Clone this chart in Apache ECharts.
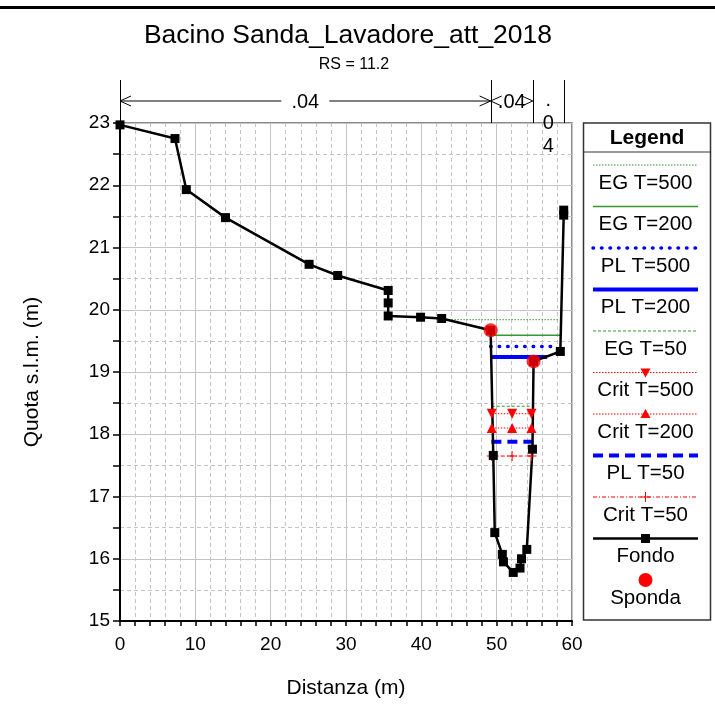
<!DOCTYPE html>
<html>
<head>
<meta charset="utf-8">
<title>Bacino Sanda_Lavadore_att_2018</title>
<script src="https://cdn.jsdelivr.net/npm/echarts@6/dist/echarts.min.js"></script>
<style>
    html, body { margin: 0; padding: 0; background: #fff; }
    #main { width: 715px; height: 708px; }
</style>
</head>
<body>
<div id="main"></div>
<script>
/**
 * sezione trasversale RS = 11.2 - echart
 * quote in m s.l.m., distanze in m
 */

// fondo alveo
var fondoX = [0, 7.3, 8.8, 14.0, 25.1, 28.9, 35.6, 35.6, 35.6, 39.9, 42.7, 49.2, 49.55, 49.75, 50.75, 50.9, 52.2, 53.1, 53.3, 54.0, 54.75, 54.9, 58.45, 58.9, 58.9];
var fondoY = [22.97, 22.75, 21.93, 21.48, 20.73, 20.55, 20.31, 20.11, 19.90, 19.88, 19.86, 19.67, 17.66, 16.42, 16.07, 15.95, 15.78, 15.85, 16.0, 16.15, 17.76, 19.17, 19.33, 21.52, 21.6];

// sponde (bank stations)
var spondaX = [49.2, 54.9];
var spondaY = [19.67, 19.17];

// livelli idrici: estremi in x e quota
var egT500X = [43.2, 58.2];   var egT500Y = 19.84;
var egT200X = [49.2, 58.45];  var egT200Y = 19.59;
var plT500X = [49.2, 58.1];   var plT500Y = 19.41;
var plT200X = [49.2, 56.7];   var plT200Y = 19.24;
var egT50X  = [49.35, 54.55]; var egT50Y  = 18.45;
var plT50X  = [49.3, 55.0];   var plT50Y  = 17.88;

// altezze critiche (marker agli estremi e in mezzo)
var critX = [49.35, 52.05, 54.62];
var critT500Y = 18.33;
var critT200Y = 18.10;
var critT50Y  = 17.65;

// scabrezza di Manning
var nBreaks = [0, 49.2, 54.8, 58.9];
var nLabels = ['.04', '.04', '.04'];

var xTicks = [0, 10, 20, 30, 40, 50, 60];
var yTicks = [15, 16, 17, 18, 19, 20, 21, 22, 23];

var FONT = '"Liberation Sans", Arial, sans-serif';
var GREEN = '#339933', BLUE = '#0000ff', RED = '#ff0000';
var PLUS = 'path://M4.5,0 L5.5,0 L5.5,4.5 L10,4.5 L10,5.5 L5.5,5.5 L5.5,10 L4.5,10 L4.5,5.5 L0,5.5 L0,4.5 L4.5,4.5 Z';

function pairs(xs, ys) {
    var out = [];
    for (var i = 0; i < xs.length; i++) {
        out.push([xs[i], Array.isArray(ys) ? ys[i] : ys]);
    }
    return out;
}

// stile per legenda e serie
var styles = [
    {name: 'EG T=500',  color: GREEN, width: 1,   dash: [1.5, 1.5]},
    {name: 'EG T=200',  color: GREEN, width: 1.5, dash: null},
    {name: 'PL T=500',  color: BLUE,  width: 3.5, dash: [0.5, 8], cap: 'round'},
    {name: 'PL T=200',  color: BLUE,  width: 4,   dash: null},
    {name: 'EG T=50',   color: GREEN, width: 1,   dash: [3, 2]},
    {name: 'Crit T=500', color: RED,  width: 1,   dash: [1.5, 1.5], marker: 'down'},
    {name: 'Crit T=200', color: RED,  width: 1,   dash: [1.5, 1.5], marker: 'up'},
    {name: 'PL T=50',   color: BLUE,  width: 4,   dash: [10, 6]},
    {name: 'Crit T=50', color: RED,   width: 1,   dash: [4, 2, 1, 2], marker: 'plus'},
    {name: 'Fondo',     color: '#000', width: 2.5, dash: null, marker: 'square'},
    {name: 'Sponda',    color: RED,   width: 0,   dash: null, marker: 'dot'}
];

function levelSeries(st, data) {
    var s = {
        name: st.name,
        type: 'line',
        data: data,
        showSymbol: false,
        symbol: 'none',
        silent: true,
        lineStyle: {color: st.color, width: st.width, type: st.dash || 'solid', cap: st.cap || 'butt'},
        itemStyle: {color: st.color}
    };
    if (st.marker === 'down' || st.marker === 'up' || st.marker === 'plus') {
        s.showSymbol = true;
        s.symbol = st.marker === 'plus' ? PLUS : 'triangle';
        s.symbolSize = 10;
        s.symbolRotate = st.marker === 'down' ? 180 : 0;
    }
    return s;
}

var series = [
    levelSeries(styles[0], pairs(egT500X, egT500Y)),
    levelSeries(styles[1], pairs(egT200X, egT200Y)),
    levelSeries(styles[2], pairs(plT500X, plT500Y)),
    levelSeries(styles[3], pairs(plT200X, plT200Y)),
    levelSeries(styles[4], pairs(egT50X, egT50Y)),
    levelSeries(styles[5], pairs(critX, critT500Y)),
    levelSeries(styles[6], pairs(critX, critT200Y)),
    levelSeries(styles[7], pairs(plT50X, plT50Y)),
    levelSeries(styles[8], pairs(critX, critT50Y)),
    {
        name: 'Fondo',
        type: 'line',
        z: 3,
        data: pairs(fondoX, fondoY),
        symbol: 'rect',
        symbolSize: 9,
        lineStyle: {color: '#000', width: 2.5},
        itemStyle: {color: '#000'}
    },
    {
        name: 'Sponda',
        type: 'scatter',
        z: 4,
        data: pairs(spondaX, spondaY),
        symbol: 'circle',
        symbolSize: 14,
        itemStyle: {color: RED}
    }
];

var axisCommon = {
    type: 'value',
    axisLine: {lineStyle: {color: '#000', width: 2}},
    axisTick: {show: true, lineStyle: {color: '#000', width: 1.5}},
    minorTick: {show: true, lineStyle: {color: '#000', width: 1.5}},
    splitLine: {show: true, lineStyle: {color: '#c4c4c4', width: 1}},
    minorSplitLine: {show: true, lineStyle: {color: '#c4c4c4', width: 1, type: [4, 3]}},
    axisLabel: {color: '#000', fontSize: 19, fontFamily: FONT},
    nameLocation: 'middle',
    nameTextStyle: {color: '#000', fontSize: 21, fontFamily: FONT}
};

var chart = echarts.init(document.getElementById('main'));

var option = {
    animation: false,
    backgroundColor: '#fff',
    textStyle: {fontFamily: FONT},
    title: [{
        text: 'Bacino Sanda_Lavadore_att_2018',
        left: 343, top: 17, textAlign: 'center',
        textStyle: {fontSize: 26.5, fontWeight: 'normal', color: '#000', fontFamily: FONT}
    }, {
        text: 'RS = 11.2',
        left: 349, top: 52, textAlign: 'center',
        textStyle: {fontSize: 16, fontWeight: 'normal', color: '#000', fontFamily: FONT}
    }],
    grid: {
        left: 120, right: 143, top: 123, bottom: 87,
        show: true, borderColor: '#666', borderWidth: 1.5
    },
    xAxis: echarts.util.merge({
        min: xTicks[0], max: xTicks[xTicks.length - 1], interval: 10,
        axisTick: {length: 5},
        minorTick: {splitNumber: 5, length: 5},
        axisLabel: {margin: 14},
        name: 'Distanza (m)', nameGap: 57
    }, axisCommon),
    yAxis: echarts.util.merge({
        min: yTicks[0], max: yTicks[yTicks.length - 1], interval: 1,
        axisTick: {length: 7},
        minorTick: {splitNumber: 2, length: 7},
        axisLabel: {margin: 10},
        name: 'Quota s.l.m. (m)', nameGap: 77
    }, axisCommon),
    series: series
};

chart.setOption(option);

/* annotazioni e legenda disegnate a mano */
function buildGraphic() {
    var g = [];
    var topY = 80, botY = 123, arrY = 101;

    // linea spessa in testa
    g.push({type: 'rect', shape: {x: 0, y: 6, width: 715, height: 3}, style: {fill: '#000'}});

    function px(x) { return chart.convertToPixel({xAxisIndex: 0}, x); }
    function head(x, dir) {
        return {type: 'polyline', shape: {points: [[x + dir * 11, arrY - 5], [x, arrY], [x + dir * 11, arrY + 5]]},
            style: {stroke: '#000', lineWidth: 1, fill: null}};
    }

    for (var i = 0; i < nBreaks.length; i++) {
        var bx = Math.round(px(nBreaks[i])) + 0.5;
        g.push({type: 'line', shape: {x1: bx, y1: topY, x2: bx, y2: botY}, style: {stroke: '#000', lineWidth: 1}});
    }
    for (var j = 0; j < nLabels.length; j++) {
        var x0 = px(nBreaks[j]), x1 = px(nBreaks[j + 1]);
        var w = x1 - x0, mid = (x0 + x1) / 2;
        if (w > 60) {
            g.push({type: 'line', shape: {x1: x0, y1: arrY, x2: mid - 24, y2: arrY}, style: {stroke: '#000', lineWidth: 1}});
            g.push({type: 'line', shape: {x1: mid + 24, y1: arrY, x2: x1, y2: arrY}, style: {stroke: '#000', lineWidth: 1}});
            g.push(head(x0, 1), head(x1, -1));
            g.push({type: 'text', x: mid, y: arrY + 1, style: {text: nLabels[j], fontSize: 20, fontFamily: FONT,
                fill: '#000', align: 'center', verticalAlign: 'middle'}});
        } else if (w > 35) {
            g.push(head(x0, 1), head(x1, -1));
            g.push({type: 'text', x: mid, y: arrY + 1, style: {text: nLabels[j], fontSize: 20, fontFamily: FONT,
                fill: '#000', align: 'center', verticalAlign: 'middle'}});
        } else {
            g.push({type: 'text', x: mid, y: 89, style: {text: nLabels[j].split('').join('\n'), fontSize: 20,
                lineHeight: 23, fontFamily: FONT, fill: '#000', align: 'center', verticalAlign: 'top'}});
        }
    }

    // legenda
    var lx = 583.5, ly = 123, lw = 127, lh = 497;
    g.push({type: 'rect', shape: {x: lx, y: ly, width: lw, height: lh}, style: {fill: '#fff', stroke: '#333', lineWidth: 1.5}, z: 5});
    g.push({type: 'line', shape: {x1: lx, y1: 152, x2: lx + lw, y2: 152}, style: {stroke: '#333', lineWidth: 1}, z: 6});
    g.push({type: 'text', x: lx + lw / 2, y: 138, z: 6, style: {text: 'Legend', fontSize: 21, fontWeight: 'bold',
        fontFamily: FONT, fill: '#000', align: 'center', verticalAlign: 'middle'}});

    var sx1 = 593, sx2 = 698, cx = (sx1 + sx2) / 2;
    for (var k = 0; k < styles.length; k++) {
        var st = styles[k];
        var y = 165 + 41.5 * k;
        if (st.width > 0) {
            g.push({type: 'line', z: 6, shape: {x1: sx1, y1: y, x2: sx2, y2: y},
                style: {stroke: st.color, lineWidth: st.width, lineDash: st.dash, lineCap: st.cap || 'butt'}});
        }
        if (st.marker === 'down') {
            g.push({type: 'polygon', z: 7, shape: {points: [[cx - 5, y - 4], [cx + 5, y - 4], [cx, y + 5]]}, style: {fill: st.color}});
        } else if (st.marker === 'up') {
            g.push({type: 'polygon', z: 7, shape: {points: [[cx - 5, y + 4], [cx + 5, y + 4], [cx, y - 5]]}, style: {fill: st.color}});
        } else if (st.marker === 'plus') {
            g.push({type: 'line', z: 7, shape: {x1: cx - 5, y1: y, x2: cx + 5, y2: y}, style: {stroke: st.color, lineWidth: 1}});
            g.push({type: 'line', z: 7, shape: {x1: cx, y1: y - 5, x2: cx, y2: y + 5}, style: {stroke: st.color, lineWidth: 1}});
        } else if (st.marker === 'square') {
            g.push({type: 'rect', z: 7, shape: {x: cx - 4.5, y: y - 4.5, width: 9, height: 9}, style: {fill: st.color}});
        } else if (st.marker === 'dot') {
            g.push({type: 'circle', z: 7, shape: {cx: cx, cy: y, r: 7}, style: {fill: st.color}});
        }
        g.push({type: 'text', x: cx, y: y + 18, z: 7, style: {text: st.name, fontSize: 20.5, fontFamily: FONT,
            fill: '#000', align: 'center', verticalAlign: 'middle'}});
    }
    return g;
}

chart.setOption({graphic: buildGraphic()});
</script>
</body>
</html>
